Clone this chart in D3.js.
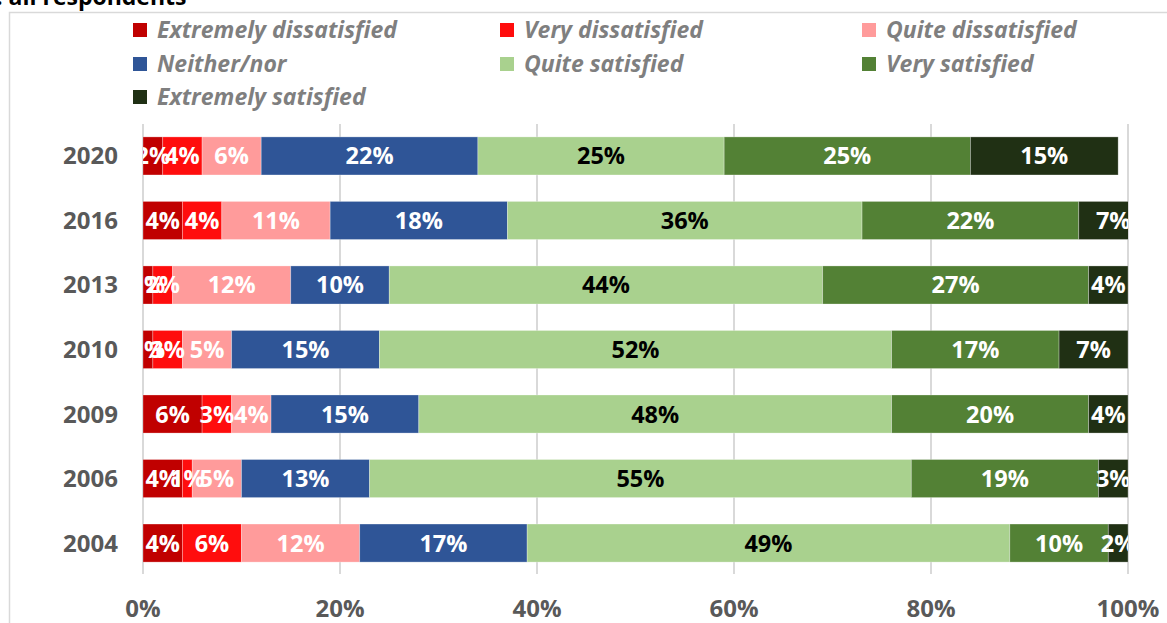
<!DOCTYPE html>
<html>
<head>
<meta charset="utf-8">
<script src="https://cdn.jsdelivr.net/npm/d3@7"></script>
<style>
  html, body { margin: 0; padding: 0; background: #fff; }
  svg { display: block; font-family: "Open Sans", Lato, sans-serif; }
</style>
</head>
<body>
<svg id="chart" width="1167" height="623"></svg>
<script>
const years = ["2020", "2016", "2013", "2010", "2009", "2006", "2004"];
const seriesNames = ["Extremely dissatisfied", "Very dissatisfied", "Quite dissatisfied", "Neither/nor", "Quite satisfied", "Very satisfied", "Extremely satisfied"];
const extremelyDissatisfied = [2, 4, 1, 1, 6, 4, 4];
const veryDissatisfied      = [4, 4, 2, 3, 3, 1, 6];
const quiteDissatisfied     = [6, 11, 12, 5, 4, 5, 12];
const neitherNor            = [22, 18, 10, 15, 15, 13, 17];
const quiteSatisfied        = [25, 36, 44, 52, 48, 55, 49];
const verySatisfied         = [25, 22, 27, 17, 20, 19, 10];
const extremelySatisfied    = [15, 7, 4, 7, 4, 3, 2];
const tickValues = [0, 20, 40, 60, 80, 100];
const tickLabels = ["0%", "20%", "40%", "60%", "80%", "100%"];
const colors = ["#c00000", "#ff0d0d", "#ff9b9b", "#2f5597", "#a9d18e", "#538135", "#203014"];
const labelColors = ["#fff", "#fff", "#fff", "#fff", "#000", "#fff", "#fff"];

const seriesValues = [extremelyDissatisfied, veryDissatisfied, quiteDissatisfied, neitherNor, quiteSatisfied, verySatisfied, extremelySatisfied];
const rows = years.map((y, i) => {
  const r = { year: y };
  seriesNames.forEach((s, k) => r[s] = seriesValues[k][i]);
  return r;
});

const svg = d3.select("#chart");
const x = d3.scaleLinear().domain([0, 100]).range([143, 1128]);
const y = d3.scaleBand().domain(years).range([124, 575]).paddingInner(0.41).paddingOuter(0.2);

// chart border
svg.append("rect").attr("x", 9.5).attr("y", 12.5).attr("width", 1200).attr("height", 700)
  .attr("fill", "none").attr("stroke", "#d9d9d9").attr("stroke-width", 1.5);

// title (partially cut off at the top)
svg.append("text").attr("x", -4).attr("y", 5).attr("font-size", 23).attr("font-weight", 700)
  .attr("fill", "#000").text(": all respondents");

// gridlines
svg.append("g").selectAll("line").data(tickValues).join("line")
  .attr("x1", d => x(d)).attr("x2", d => x(d)).attr("y1", 124).attr("y2", 574)
  .attr("stroke", "#d9d9d9").attr("stroke-width", 2);

// x tick labels
svg.append("g").selectAll("text").data(tickValues).join("text")
  .attr("x", d => x(d)).attr("y", 617).attr("text-anchor", "middle")
  .attr("font-size", 24).attr("font-weight", 700).attr("fill", "#595959")
  .text((d, i) => tickLabels[i]);

// y labels
svg.append("g").selectAll("text").data(years).join("text")
  .attr("x", 118).attr("y", d => y(d) + y.bandwidth() / 2 + 8.5).attr("text-anchor", "end")
  .attr("font-size", 24).attr("font-weight", 700).attr("fill", "#595959")
  .text(d => d);

// clip to plot area
svg.append("clipPath").attr("id", "plotclip").append("rect")
  .attr("x", x(0)).attr("y", 100).attr("width", x(100) - x(0)).attr("height", 500);

const stack = d3.stack().keys(seriesNames);
const stacked = stack(rows);

const plot = svg.append("g").attr("clip-path", "url(#plotclip)");
stacked.forEach((layer, k) => {
  const g = plot.append("g");
  g.selectAll("rect").data(layer).join("rect")
    .attr("x", d => x(d[0])).attr("y", d => y(d.data.year))
    .attr("width", d => x(d[1]) - x(d[0])).attr("height", y.bandwidth())
    .attr("fill", colors[k]).attr("stroke", "#fff").attr("stroke-opacity", 0.35).attr("stroke-width", 0.8);
});
stacked.forEach((layer, k) => {
  plot.append("g").selectAll("text").data(layer).join("text")
    .attr("x", d => (x(d[0]) + x(d[1])) / 2)
    .attr("y", d => y(d.data.year) + y.bandwidth() / 2 + 8.5)
    .attr("text-anchor", "middle").attr("font-size", 23.5).attr("font-weight", 700)
    .attr("fill", labelColors[k])
    .text(d => (d[1] - d[0]) + "%");
});

// legend
const legX = [133, 500, 862];
const legY = [30, 64, 97];
const leg = svg.append("g");
seriesNames.forEach((s, i) => {
  const cx = legX[i % 3], cy = legY[Math.floor(i / 3)];
  leg.append("rect").attr("x", cx).attr("y", cy - 7).attr("width", 14).attr("height", 14).attr("fill", colors[i]);
  leg.append("text").attr("x", cx + 24).attr("y", cy + 8).attr("font-size", 23)
    .attr("font-style", "italic").attr("font-weight", 700).attr("fill", "#7f7f7f").text(s);
});
</script>
</body>
</html>
